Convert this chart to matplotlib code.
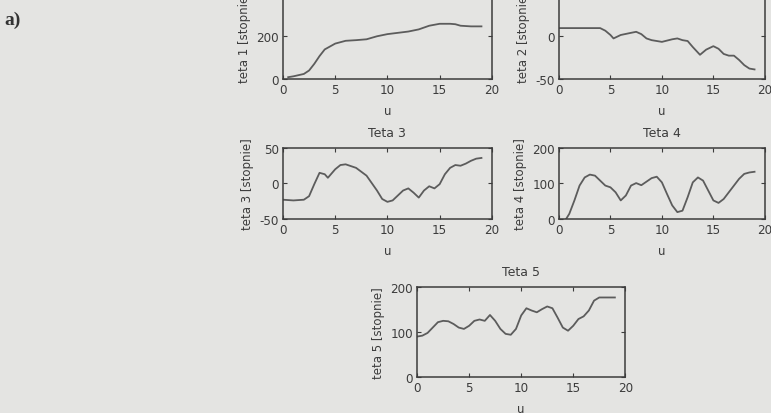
import matplotlib.pyplot as plt
import numpy as np

# czas u
u1 = [0.5, 1, 2, 2.5, 3, 3.5, 4, 5, 6, 7, 8, 9, 10, 11, 12, 13, 14, 15, 16, 16.5, 17, 18, 19]
teta1 = [8, 12, 23, 39, 70, 106, 137, 164, 177, 180, 184, 198, 208, 214, 220, 230, 247, 256, 256, 254, 247, 244, 244]

u2 = [0, 1, 2, 3, 4, 4.5, 5, 5.3, 6, 7, 7.5, 8, 8.5, 9, 10, 11, 11.5, 12, 12.5, 13, 13.7, 14.3, 15, 15.5,
      16, 16.5, 17, 17.5, 18, 18.5, 19]
teta2 = [9, 9, 9, 9, 9, 6, 1, -3, 1, 3.5, 4.7, 2, -3, -5, -7, -4, -3, -5, -6, -13, -22, -16, -12, -15,
         -21, -23, -23, -28, -34, -38, -39]

u3 = [0, 1, 2, 2.5, 3, 3.5, 4, 4.3, 5, 5.5, 6, 7, 8, 9, 9.5, 10, 10.5, 11, 11.5, 12, 12.5, 13, 13.5, 14,
      14.5, 15, 15.5, 16, 16.5, 17, 17.5, 18, 18.5, 19]
teta3 = [-23, -24, -23, -18, -1, 15, 13, 8, 20, 26, 27, 22, 11, -10, -22, -26, -24, -17, -10, -7, -13, -20,
         -10, -4, -7, -1, 13, 22, 26, 25, 28, 32, 35, 36]

u4 = [0.7, 1, 1.5, 2, 2.5, 3, 3.5, 4, 4.5, 5, 5.5, 6, 6.5, 7, 7.5, 8, 8.5, 9, 9.5, 10, 10.5, 11, 11.5, 12,
      12.5, 13, 13.5, 14, 14.5, 15, 15.5, 16, 16.5, 17, 17.5, 18, 18.5, 19]
teta4 = [0, 14, 52, 94, 117, 125, 122, 108, 94, 89, 75, 52, 66, 94, 101, 95, 105, 115, 119, 103, 70, 38, 19, 23,
         61, 103, 117, 108, 80, 52, 45, 56, 75, 94, 113, 127, 131, 133]

u5 = [0, 0.5, 1, 1.5, 2, 2.5, 3, 3.5, 4, 4.5, 5, 5.5, 6, 6.5, 7, 7.5, 8, 8.5, 9, 9.5, 10, 10.5, 11, 11.5,
      12, 12.5, 13, 13.5, 14, 14.5, 15, 15.5, 16, 16.5, 17, 17.5, 18, 18.5, 19]
teta5 = [90, 92, 98, 110, 122, 125, 124, 118, 110, 107, 114, 125, 128, 125, 138, 125, 107, 96, 94, 107, 137,
         153, 148, 144, 151, 157, 153, 132, 110, 103, 114, 129, 135, 148, 170, 177, 177, 177, 177]

bg = '#e4e4e2'
line_c = '#5c5c5c'
edge_c = '#3c3c3c'

plt.rcParams['font.family'] = ['DejaVu Sans']
plt.rcParams['axes.unicode_minus'] = False
fig = plt.figure(figsize=(7.71, 4.14), dpi=100, facecolor=bg)


def panel(pos, x, y, ylim, yticks, ylab, title=None):
    ax = fig.add_axes(pos)
    ax.set_facecolor(bg)
    ax.plot(x, y, color=line_c, linewidth=1.3, solid_joinstyle='round')
    ax.set_xlim(0, 20)
    ax.set_ylim(*ylim)
    ax.set_xticks([0, 5, 10, 15, 20])
    ax.set_yticks(yticks)
    ax.tick_params(direction='in', top=True, right=True, labelsize=9.5, colors=edge_c,
                   length=3, pad=3)
    for lab in ax.get_xticklabels() + ax.get_yticklabels():
        lab.set_fontstretch('condensed')
    for s in ax.spines.values():
        s.set_color(edge_c)
        s.set_linewidth(1.1)
    ax.set_xlabel('u', fontsize=8.5, color=edge_c, labelpad=6)
    ax.set_ylabel(ylab, fontsize=8.5, color=edge_c, labelpad=4)
    if title:
        ax.set_title(title, fontsize=9, color=edge_c, pad=9)
    return ax


panel([0.367, 0.807, 0.271, 0.208], u1, teta1, (0, 400), [0, 200, 400], 'teta 1 [stopnie]')
panel([0.725, 0.807, 0.267, 0.208], u2, teta2, (-50, 50), [-50, 0, 50], 'teta 2 [stopnie]')
panel([0.367, 0.469, 0.271, 0.171], u3, teta3, (-50, 50), [-50, 0, 50], 'teta 3 [stopnie]', 'Teta 3')
panel([0.725, 0.469, 0.267, 0.171], u4, teta4, (0, 200), [0, 100, 200], 'teta 4 [stopnie]', 'Teta 4')
panel([0.541, 0.087, 0.270, 0.217], u5, teta5, (0, 200), [0, 100, 200], 'teta 5 [stopnie]', 'Teta 5')

fig.text(0.006, 0.94, 'a)', fontsize=14, family='Liberation Serif', weight='bold', color='#333333')

plt.savefig('out.png', dpi=100, facecolor=bg)
